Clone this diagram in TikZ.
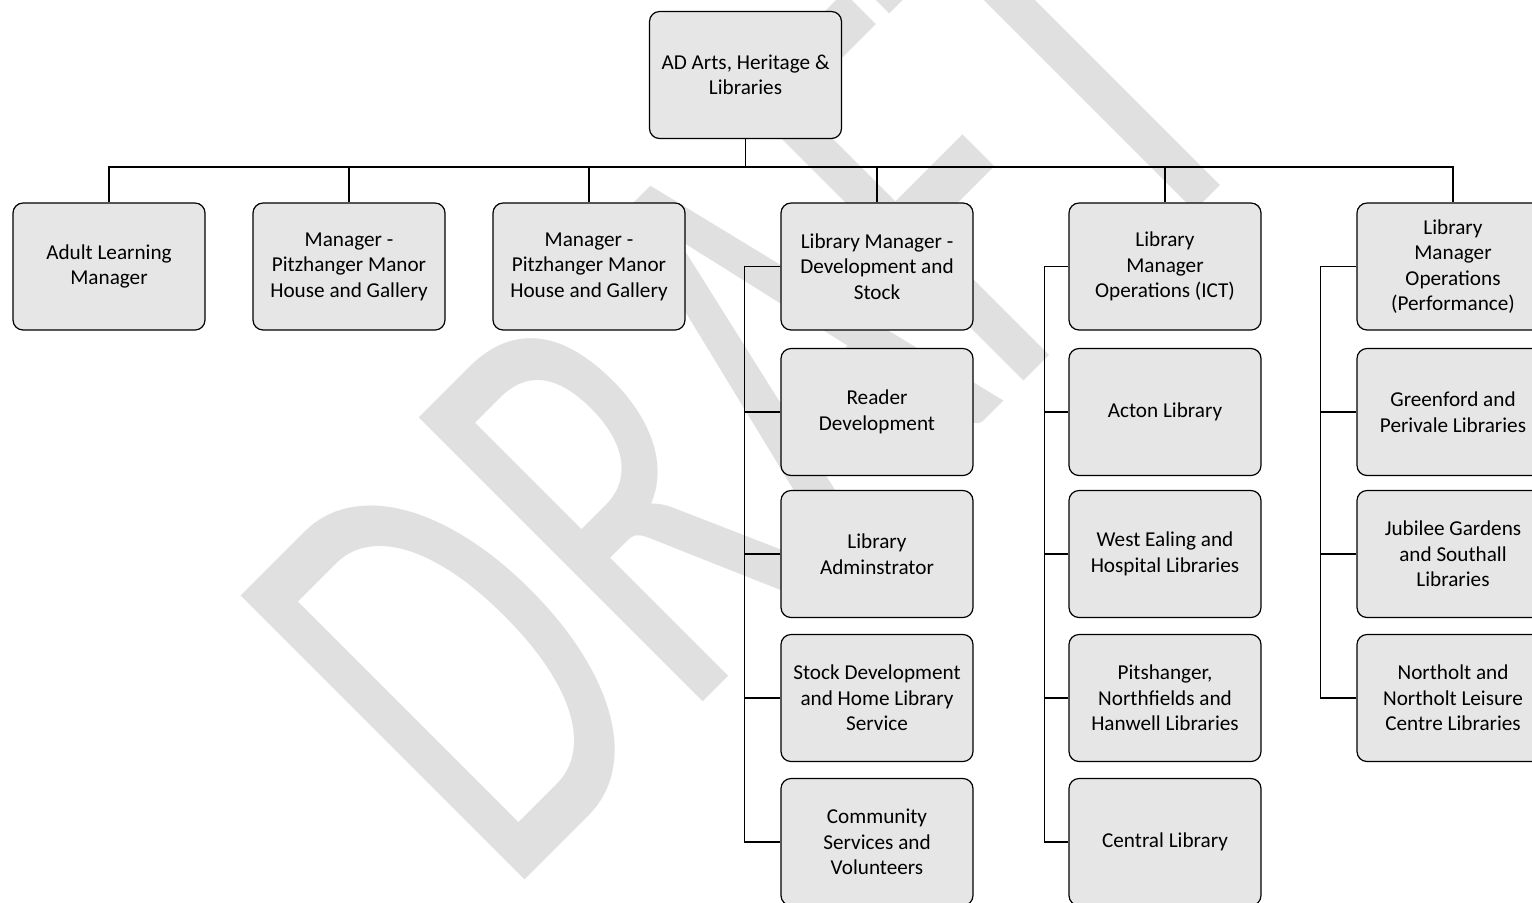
\documentclass[tikz,border=0pt]{standalone}
\usepackage{fontspec}
\setmainfont{Carlito}
\definecolor{boxgray}{HTML}{E6E6E6}
\definecolor{wmgray}{HTML}{E0E0E0}
\begin{document}
\begin{tikzpicture} [x=0.5pt,y=-0.5pt,myb/.style={rectangle, rounded corners=5pt, draw, fill=boxgray, line width=0.6pt, minimum width=96pt, minimum height=63.5pt, inner sep=0pt, align=center, font=\fontsize{10.6}{12.75}\selectfont},myl/.style={line width=0.55pt}]
  \useasboundingbox (0,0) rectangle (1532,902);
 % watermark
  \node[rotate=45, xscale=0.65, anchor=base west, text=wmgray, inner sep=0pt, font=\fontsize{313}{313}\selectfont] (wm) at (505,900) {DRAFT};

  \node[myb] (ad) at (745.5,75) {AD Arts, Heritage \&\\Libraries};

  \node[myb] (al) at (109,266.5) {Adult Learning\\Manager};
  \node[myb] (pm1) at (349,266.5) {Manager -\\Pitzhanger Manor\\House and Gallery};
  \node[myb] (pm2) at (589,266.5) {Manager -\\Pitzhanger Manor\\House and Gallery};
  \node[myb] (dev) at (877,266.5) {Library Manager -\\Development and\\Stock};
  \node[myb] (ict) at (1165,266.5) {Library\\Manager\\Operations (ICT)};
  \node[myb] (perf) at (1453,266.5) {Library\\Manager\\Operations\\(Performance)};

  \node[myb] (dev1) at (877,412) {Reader\\Development};
  \node[myb] (dev2) at (877,554) {Library\\Adminstrator};
  \node[myb] (dev3) at (877,698) {Stock Development\\and Home Library\\Service};
  \node[myb] (dev4) at (877,842) {Community\\Services and\\Volunteers};

  \node[myb] (ict1) at (1165,412) {Acton Library};
  \node[myb] (ict2) at (1165,554) {West Ealing and\\Hospital Libraries};
  \node[myb] (ict3) at (1165,698) {Pitshanger,\\Northfields and\\Hanwell Libraries};
  \node[myb] (ict4) at (1165,842) {Central Library};

  \node[myb] (perf1) at (1453,412) {Greenford and\\Perivale Libraries};
  \node[myb] (perf2) at (1453,554) {Jubilee Gardens\\and Southall\\Libraries};
  \node[myb] (perf3) at (1453,698) {Northolt and\\Northolt Leisure\\Centre Libraries};

  \coordinate (bus) at (745,167);

    \draw[myl] (ad.south) -- (ad.south |- bus) -| (al.north);
    \draw[myl] (ad.south) -- (ad.south |- bus) -| (pm1.north);
    \draw[myl] (ad.south) -- (ad.south |- bus) -| (pm2.north);
    \draw[myl] (ad.south) -- (ad.south |- bus) -| (dev.north);
    \draw[myl] (ad.south) -- (ad.south |- bus) -| (ict.north);
    \draw[myl] (ad.south) -- (ad.south |- bus) -| (perf.north);

    \draw[myl] (dev.west) -- ++(-36,0) |- (dev1.west);
    \draw[myl] (dev.west) -- ++(-36,0) |- (dev2.west);
    \draw[myl] (dev.west) -- ++(-36,0) |- (dev3.west);
    \draw[myl] (dev.west) -- ++(-36,0) |- (dev4.west);

    \draw[myl] (ict.west) -- ++(-24,0) |- (ict1.west);
    \draw[myl] (ict.west) -- ++(-24,0) |- (ict2.west);
    \draw[myl] (ict.west) -- ++(-24,0) |- (ict3.west);
    \draw[myl] (ict.west) -- ++(-24,0) |- (ict4.west);

    \draw[myl] (perf.west) -- ++(-36,0) |- (perf1.west);
    \draw[myl] (perf.west) -- ++(-36,0) |- (perf2.west);
    \draw[myl] (perf.west) -- ++(-36,0) |- (perf3.west);

\end{tikzpicture}
\end{document}
